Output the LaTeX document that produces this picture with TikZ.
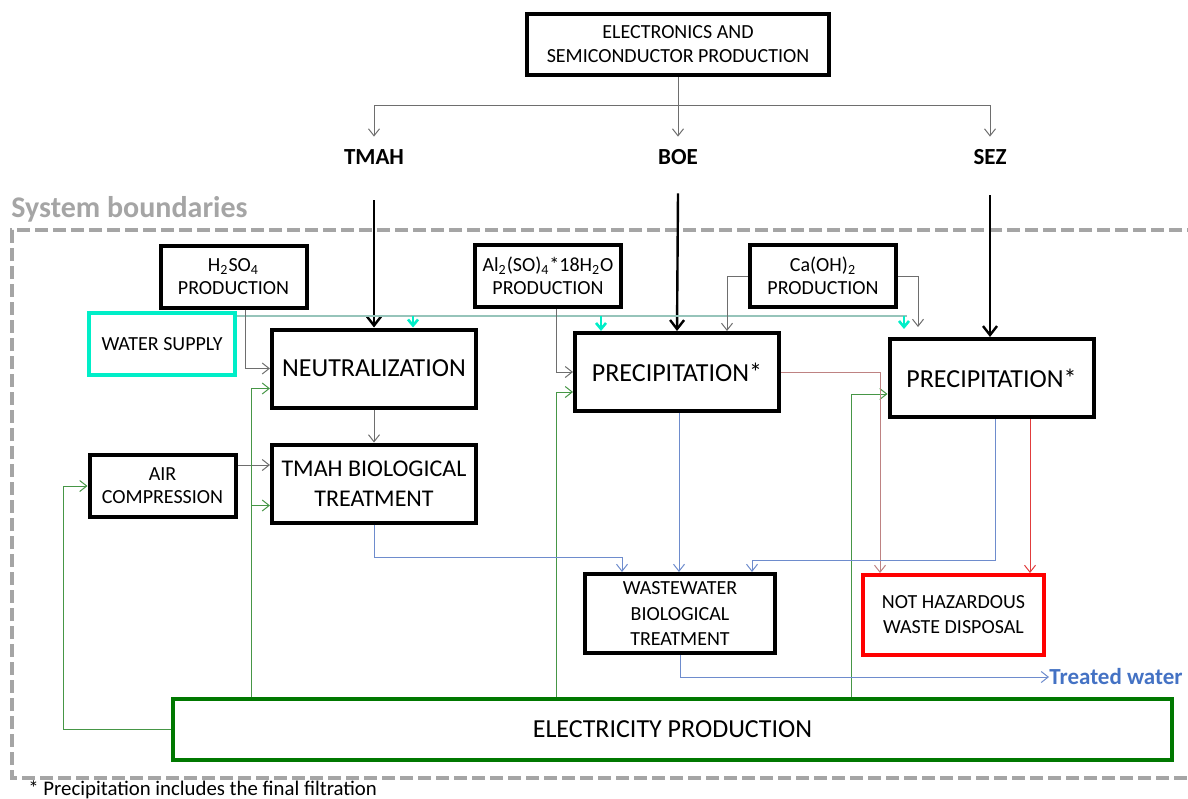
\documentclass[tikz,border=0pt]{standalone}
\usepackage{fontspec}
\setmainfont{Carlito}
\usetikzlibrary{arrows.meta,calc}
\definecolor{aqua}{RGB}{0,238,200}
\definecolor{wline}{RGB}{150,196,186}
\definecolor{lgrey}{RGB}{110,110,110}
\definecolor{lgreen}{RGB}{70,150,70}
\definecolor{dgreen}{RGB}{0,120,0}
\definecolor{lblue}{RGB}{110,140,205}
\definecolor{tblue}{RGB}{68,114,196}
\definecolor{rbrown}{RGB}{190,130,130}
\definecolor{lred}{RGB}{225,60,60}
\definecolor{bgrey}{RGB}{165,165,165}
\tikzstyle{bx}=[draw=black,line width=2pt,align=center,inner sep=0pt]
\tikzstyle{sm}=[bx,font=\fontsize{10}{11.5}\selectfont,minimum width=73pt,minimum height=31pt]
\tikzstyle{bg}=[bx,font=\fontsize{13}{15}\selectfont,minimum width=102pt,minimum height=39pt]
\tikzstyle{md}=[bx,font=\fontsize{10}{12.5}\selectfont,minimum height=39.5pt]
\tikzstyle{lbl}=[font=\bfseries\fontsize{11.5}{13}\selectfont,minimum height=20pt,inner sep=0pt]
\tikzstyle{tip}=[-{Straight Barb[length=3.5pt,width=5.5pt]}]
\tikzstyle{gl}=[draw=lgrey,line width=0.5pt,tip]
\tikzstyle{grl}=[draw=lgreen,line width=0.5pt,tip]
\tikzstyle{bll}=[draw=lblue,line width=0.5pt,tip]
\tikzstyle{rbl}=[draw=rbrown,line width=0.5pt,tip]
\tikzstyle{rl}=[draw=lred,line width=0.5pt,tip]
\tikzstyle{big}=[draw=black,line width=1.2pt,-{Straight Barb[length=4.5pt,width=7pt]}]
\tikzstyle{wa}=[draw=aqua,line width=1.3pt,-{Straight Barb[length=3pt,width=5pt]}]

\begin{document}
\begin{tikzpicture}[x=0.5pt,y=-0.5pt]
\useasboundingbox (0,0) rectangle (1188,798);
\draw[bgrey,line width=2pt,dash pattern=on 6.5pt off 2.5pt] (1200,230) -- (12,230) -- (12,778) -- (1200,778);
\node[anchor=west,text=bgrey,font=\bfseries\fontsize{15}{17}\selectfont,inner sep=0pt] (sysb) at (11,209) {System boundaries};
\node[anchor=base west,font=\fontsize{10.4}{12}\selectfont,inner sep=0pt] (note) at (28,795) {* Precipitation includes the final filtration};

\node[bx,font=\fontsize{10}{12}\selectfont,minimum width=151pt,minimum height=30.5pt] (top) at (678,44.5) {ELECTRONICS AND\\SEMICONDUCTOR PRODUCTION};
\node[lbl] (tmah) at (374,157) {TMAH};
\node[lbl] (boe) at (678,157) {BOE};
\node[lbl] (sez) at (990,157) {SEZ};

\node[sm] (h2so4) at (233.5,276.5) {H\textsubscript{2}SO\textsubscript{4}\\PRODUCTION};
\node[sm] (al) at (548,276) {Al\textsubscript{2}(SO)\textsubscript{4}*18H\textsubscript{2}O\\PRODUCTION};
\node[sm] (ca) at (823,276) {Ca(OH)\textsubscript{2}\\PRODUCTION};
\node[sm,draw=aqua] (water) at (162,344) {WATER SUPPLY};
\node[sm] (air) at (162.5,486) {AIR\\COMPRESSION};
\node[bg] (neut) at (374,368.5) {NEUTRALIZATION};
\node[bg,font=\fontsize{12}{15}\selectfont] (tbio) at (374,483.5) {TMAH BIOLOGICAL\\TREATMENT};
\node[bg] (precb) at (677,372) {PRECIPITATION*};
\node[bg] (precs) at (991.5,378) {PRECIPITATION*};
\node[md,minimum width=95pt] (ww) at (680,613.5) {WASTEWATER\\BIOLOGICAL\\TREATMENT};
\node[md,draw=red,minimum width=90.5pt,minimum height=40pt] (nhaz) at (953.5,615) {NOT HAZARDOUS\\WASTE DISPOSAL};
\node[bx,draw=dgreen,font=\fontsize{13}{15}\selectfont,minimum width=499.5pt,minimum height=30.5pt] (elec) at (672.5,729.5) {ELECTRICITY PRODUCTION};
\node[anchor=west,text=tblue,font=\bfseries\fontsize{11.5}{13}\selectfont,inner sep=0pt] (treated) at (1049,677) {Treated water};

\coordinate (split) at (678,105);
\coordinate (w0) at (907,316);
\coordinate (w1) at (413,316);
\coordinate (w2) at (601,316);
\coordinate (w3) at (904,316);
\coordinate (g0) at (63,0);
\coordinate (g1) at (251,0);
\coordinate (g2) at (556,0);
\coordinate (g3) at (851,0);
\coordinate (c1) at (727,0);
\coordinate (c2) at (918,0);
\coordinate (r1) at (880,0);
\coordinate (r2) at (1030,0);
\coordinate (b1) at (622,557);
\coordinate (b2) at (752,560);
\coordinate (b3) at (995,0);

\draw[gl] (top.south) -- (top.south |- split) -| (tmah.north);
\draw[gl] (top.south |- split) -| (sez.north);
\draw[gl] (top.south) -- (boe.north);
\draw[big] (tmah.south) ++(0,23) -- (neut.north);
\draw[big] (boe.south) ++(0,16) -- (precb.north);
\draw[big] (sez.south) ++(0,18) -- (sez.south |- precs.north);

\draw[draw=wline,line width=1pt] (water.north east |- w0) -- (w0);
\draw[wa] (w1) -- (w1 |- neut.north);
\draw[wa] (w2) -- (w2 |- precb.north);
\draw[wa] (w3) -- ($(w3 |- precs.north)+(0,-8)$);

\draw[gl] (h2so4.south -| g1) ++(-6,0) |- (neut.west);
\draw[gl] (al.south -| g2) |- (precb.west);
\draw[gl] (ca.west) -| (c1 |- precb.north);
\draw[gl] (ca.east) -| ($(c2 |- precs.north)+(0,-10)$);
\draw[gl] ([yshift=10.5pt]air.east) -- ([yshift=10.5pt]air.east -| tbio.west);
\draw[gl] (neut.south) -- (tbio.north);

\draw[grl] (elec.north -| g1) |- ([yshift=-10pt]neut.west);
\draw[grl] (elec.north -| g1) |- ([yshift=-11pt]tbio.west);
\draw[grl] (elec.west) -- (elec.west -| g0) |- (air.west);
\draw[grl] (elec.north -| g2) |- ([yshift=-10pt]precb.west);
\draw[grl] (elec.north -| g3) |- ([yshift=-8pt]precs.west);

\draw[rbl] (precb.east) -| (r1 |- nhaz.north);
\draw[rl] (precs.south -| r2) -- (r2 |- nhaz.north);
\draw[bll] (tbio.south) |- (b1) -- (b1 |- ww.north);
\draw[bll] (precb.south) ++(2,0) -- ($(precb.south |- ww.north)+(2,0)$);
\draw[bll] (precs.south -| b3) |- (b2) -- (b2 |- ww.north);
\draw[bll] (ww.south) |- (treated.west);
\end{tikzpicture}
\end{document}
